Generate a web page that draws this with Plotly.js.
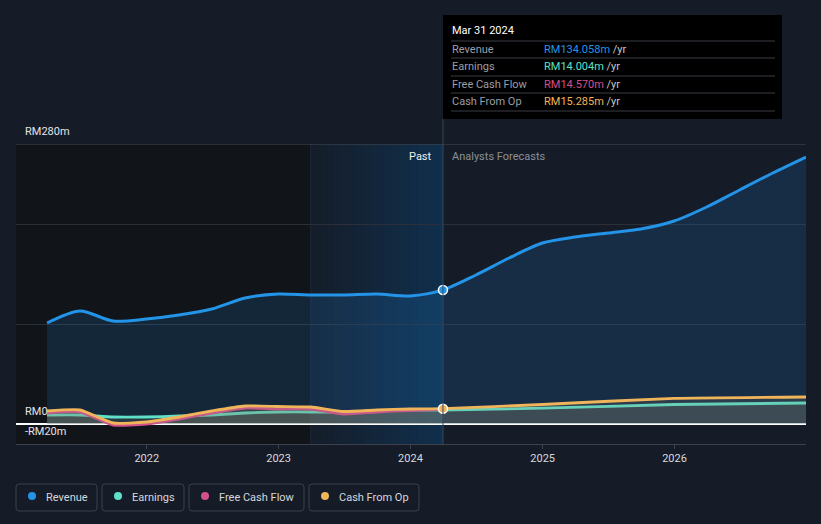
<!DOCTYPE html>
<html><head><meta charset="utf-8">
<script src="https://cdn.plot.ly/plotly-3.0.1.min.js"></script>
<style>html,body{margin:0;padding:0;background:#161c27;}#chart{width:821px;height:524px;}</style>
</head><body><div id="chart"></div>
<script>
// ---------- data ----------
const pastDates = ['2021-03-31','2021-06-30','2021-09-30','2021-12-31','2022-03-31','2022-06-30','2022-09-30','2022-12-31','2023-03-31','2023-06-30','2023-09-30','2023-12-31','2024-03-31'];
const revenuePast  = [101, 113, 103, 105, 109, 115, 126, 130, 129, 129, 130, 128, 134.058];
const earningsPast = [9, 9, 7, 7, 8, 9, 11, 12, 12, 12, 13, 14, 14.004];
const fcfPast      = [11, 12, -1, 0, 5, 11, 16, 15, 15, 10, 12, 13.5, 14.570];
const cfoPast      = [13, 14, 1, 2, 7, 13, 18, 17.5, 17, 12.5, 14, 15, 15.285];

const revenueFcDates = ['2024-06-30','2024-09-30','2024-12-31','2025-03-31','2025-06-30','2025-09-30','2025-12-31','2026-03-31','2026-06-30','2026-09-30','2026-12-31'];
const revenueFc = [149, 166, 181, 187, 191, 195, 203, 217, 234, 251, 267];
const annualFcDates = ['2024-12-31','2025-12-31','2026-12-31'];
const earningsFc = [15.8, 19.5, 21];
const cfoFc = [19.5, 25.7, 27];

const xTickVals = ['2022-01-01','2023-01-01','2024-01-01','2025-01-01','2026-01-01'];
const xTickLabels = ['2022','2023','2024','2025','2026'];
const yLabelVals = [280, 0, -20];
const yLabels = ['RM280m','RM0','-RM20m'];
const seriesNames = ['Revenue','Earnings','Free Cash Flow','Cash From Op'];
const tooltipDate = 'Mar 31 2024';

// ---------- style ----------
const C = {rev:'#2394e8', earn:'#5fe0c8', fcf:'#d2508e', cfo:'#f0b45a'};
const FONT = 'Roboto, "Noto Sans", sans-serif';
const W = 821, H = 524, ML = 16, MR = 15, MT = 144, MB = 80;
const PW = W - ML - MR, PH = H - MT - MB;
const px = p => (p - ML) / PW;
const py = p => (H - MB - p) / PH;

const xStart = '2021-01-04', xEnd = '2026-12-31';
const presentDate = pastDates[pastDates.length - 1];
const bandStart = pastDates[pastDates.length - 5];
const tS = new Date(xStart).getTime(), tE = new Date(xEnd).getTime();
const dateToPaper = d => (new Date(d).getTime() - tS) / (tE - tS);

const traces = [
  {x: pastDates.concat(revenueFcDates), y: revenuePast.concat(revenueFc), type:'scatter', mode:'lines',
   line:{color:C.rev, width:3, shape:'spline', smoothing:0.8}, fill:'tozeroy', fillcolor:'rgba(33,150,243,0.15)'},
  {x: pastDates.concat(annualFcDates), y: earningsPast.concat(earningsFc), type:'scatter', mode:'lines',
   line:{color:C.earn, width:2.8, shape:'spline', smoothing:0.5}, fill:'tozeroy', fillcolor:'rgba(140,140,115,0.18)'},
  {x: pastDates, y: fcfPast, type:'scatter', mode:'lines',
   line:{color:C.fcf, width:2.8, shape:'spline', smoothing:0.5}, fill:'tozeroy', fillcolor:'rgba(140,140,115,0.18)'},
  {x: pastDates.concat(annualFcDates), y: cfoPast.concat(cfoFc), type:'scatter', mode:'lines',
   line:{color:C.cfo, width:2.8, shape:'spline', smoothing:0.5}, fill:'tozeroy', fillcolor:'rgba(140,140,115,0.18)'},
  {x:[presentDate], y:[revenuePast[revenuePast.length-1]], type:'scatter', mode:'markers',
   marker:{size:9, color:C.rev, line:{color:'#ffffff', width:1.5}}},
  {x:[presentDate], y:[cfoPast[cfoPast.length-1]], type:'scatter', mode:'markers',
   marker:{size:9, color:C.cfo, line:{color:'#ffffff', width:1.5}}}
];

const shapes = [];
// dark past region
shapes.push({type:'rect', xref:'x', yref:'paper', x0:xStart, x1:bandStart, y0:0, y1:1, fillcolor:'#111419', line:{width:0}, layer:'below'});
// gradient band (last 12 months)
function hex2rgb(h){return [parseInt(h.slice(1,3),16),parseInt(h.slice(3,5),16),parseInt(h.slice(5,7),16)];}
const gA = hex2rgb('#151d2a'), gB = hex2rgb('#10304d');
const t0 = new Date(bandStart).getTime(), t1 = new Date(presentDate).getTime();
const N = 40;
for (let i = 0; i < N; i++) {
  const f = (i + 0.5) / N;
  const c = gA.map((v,k) => Math.round(v + (gB[k]-v)*f));
  shapes.push({type:'rect', xref:'x', yref:'paper',
    x0:new Date(t0 + (t1-t0)*i/N).toISOString(), x1:new Date(t0 + (t1-t0)*(i+1)/N + 3600000*30).toISOString(),
    y0:0, y1:1, fillcolor:'rgb('+c.join(',')+')', line:{width:0}, layer:'below'});
}
// faint band edge
shapes.push({type:'line', xref:'x', yref:'paper', x0:bandStart, x1:bandStart, y0:0, y1:1, line:{color:'#1d2a3a', width:1}, layer:'below'});
// top gridline brighter
shapes.push({type:'line', xref:'paper', yref:'y', x0:0, x1:1, y0:280, y1:280, line:{color:'#464a54', width:1}, layer:'below'});
// divider
shapes.push({type:'line', xref:'x', yref:'paper', x0:presentDate, x1:presentDate, y0:0, y1:py(119), line:{color:'#34475c', width:1}, layer:'above'});
// tooltip box
shapes.push({type:'rect', xref:'paper', yref:'paper', x0:dateToPaper(presentDate), x1:px(782), y0:py(119), y1:py(15), fillcolor:'#000000', line:{width:0}, layer:'above'});
[41, 58, 76, 93, 111].forEach(yy => shapes.push({type:'line', xref:'paper', yref:'paper', x0:px(451), x1:px(775), y0:py(yy), y1:py(yy), line:{color:'#3a3d44', width:1}, layer:'above'}));

// legend boxes
function rrect(x0p, y0p, x1p, y1p, r){
  const X0 = px(x0p), X1 = px(x1p), Yt = py(y0p), Yb = py(y1p);
  const rx = r / PW, ry = r / PH;
  return 'M'+(X0+rx)+','+Yt+' L'+(X1-rx)+','+Yt+' Q'+X1+','+Yt+' '+X1+','+(Yt-ry)+
    ' L'+X1+','+(Yb+ry)+' Q'+X1+','+Yb+' '+(X1-rx)+','+Yb+
    ' L'+(X0+rx)+','+Yb+' Q'+X0+','+Yb+' '+X0+','+(Yb+ry)+
    ' L'+X0+','+(Yt-ry)+' Q'+X0+','+Yt+' '+(X0+rx)+','+Yt+' Z';
}
const legBoxes = [[16,97],[102,184],[189,304],[309,419]];
const legCols = [C.rev, C.earn, C.fcf, C.cfo];
const annotations = [];
legBoxes.forEach((b, i) => {
  shapes.push({type:'path', xref:'paper', yref:'paper', path:rrect(b[0], 484, b[1], 511, 3), line:{color:'#3a3f4a', width:1}, fillcolor:'rgba(0,0,0,0)', layer:'above'});
  const cx = b[0] + 16;
  shapes.push({type:'circle', xref:'paper', yref:'paper', x0:px(cx-4), x1:px(cx+4), y0:py(500), y1:py(492), fillcolor:legCols[i], line:{width:0}, layer:'above'});
  annotations.push({xref:'paper', yref:'paper', x:px(b[0]+28), y:py(497), xanchor:'left', yanchor:'middle', showarrow:false,
    text:seriesNames[i], font:{family:FONT, size:11, color:'#d4d8de'}});
});

// y labels
yLabelVals.forEach((v, i) => annotations.push({xref:'paper', yref:'y', x:0, y:v, xshift:7, yshift:4, xanchor:'left', yanchor:'bottom', showarrow:false,
  text:yLabels[i], font:{family:FONT, size:11, color:'#e2e4e8'}}));

// Past / Forecasts
annotations.push({xref:'x', yref:'paper', x:presentDate, y:py(156), xshift:-9, xanchor:'right', yanchor:'middle', showarrow:false, text:'Past', font:{family:FONT, size:11, color:'#f0f0f0'}});
annotations.push({xref:'x', yref:'paper', x:presentDate, y:py(156), xshift:7, xanchor:'left', yanchor:'middle', showarrow:false, text:'Analysts Forecasts', font:{family:FONT, size:11, color:'#8a8f98'}});

// tooltip
annotations.push({xref:'paper', yref:'paper', x:px(450), y:py(31), xanchor:'left', yanchor:'middle', showarrow:false, text:tooltipDate, font:{family:FONT, size:11, color:'#ffffff'}});
const lastVals = [revenuePast, earningsPast, fcfPast, cfoPast].map(a => a[a.length-1]);
const rowY = [49, 66.5, 84, 101];
seriesNames.forEach((n, i) => {
  annotations.push({xref:'paper', yref:'paper', x:px(450), y:py(rowY[i]), xanchor:'left', yanchor:'middle', showarrow:false, text:n, font:{family:FONT, size:11, color:'#9a9ea6'}});
  annotations.push({xref:'paper', yref:'paper', x:px(542), y:py(rowY[i]), xanchor:'left', yanchor:'middle', showarrow:false,
    text:'<span style="color:'+legCols[i]+'">RM'+lastVals[i].toFixed(3)+'m</span> /yr', font:{family:FONT, size:11, color:'#c4c8ce'}});
});

const layout = {
  width:W, height:H, margin:{l:ML, r:MR, t:MT, b:MB, pad:0},
  paper_bgcolor:'#161c27', plot_bgcolor:'#161c27',
  showlegend:false, hovermode:false,
  xaxis:{type:'date', range:[xStart, xEnd], tickvals:xTickVals, ticktext:xTickLabels, showgrid:false,
    showline:true, linecolor:'#3d424c', linewidth:1, ticks:'outside', ticklen:4, tickcolor:'#3d424c',
    tickfont:{family:FONT, size:11, color:'#d8dade'}, fixedrange:true, zeroline:false},
  yaxis:{range:[-20, 280], tickvals:[100, 200], showticklabels:false, showgrid:true, gridcolor:'#2a2f39', gridwidth:1,
    zeroline:true, zerolinecolor:'#ffffff', zerolinewidth:1.5, ticks:'', fixedrange:true},
  shapes:shapes, annotations:annotations
};

Plotly.newPlot('chart', traces, layout, {staticPlot:true, displayModeBar:false});
</script></body></html>
